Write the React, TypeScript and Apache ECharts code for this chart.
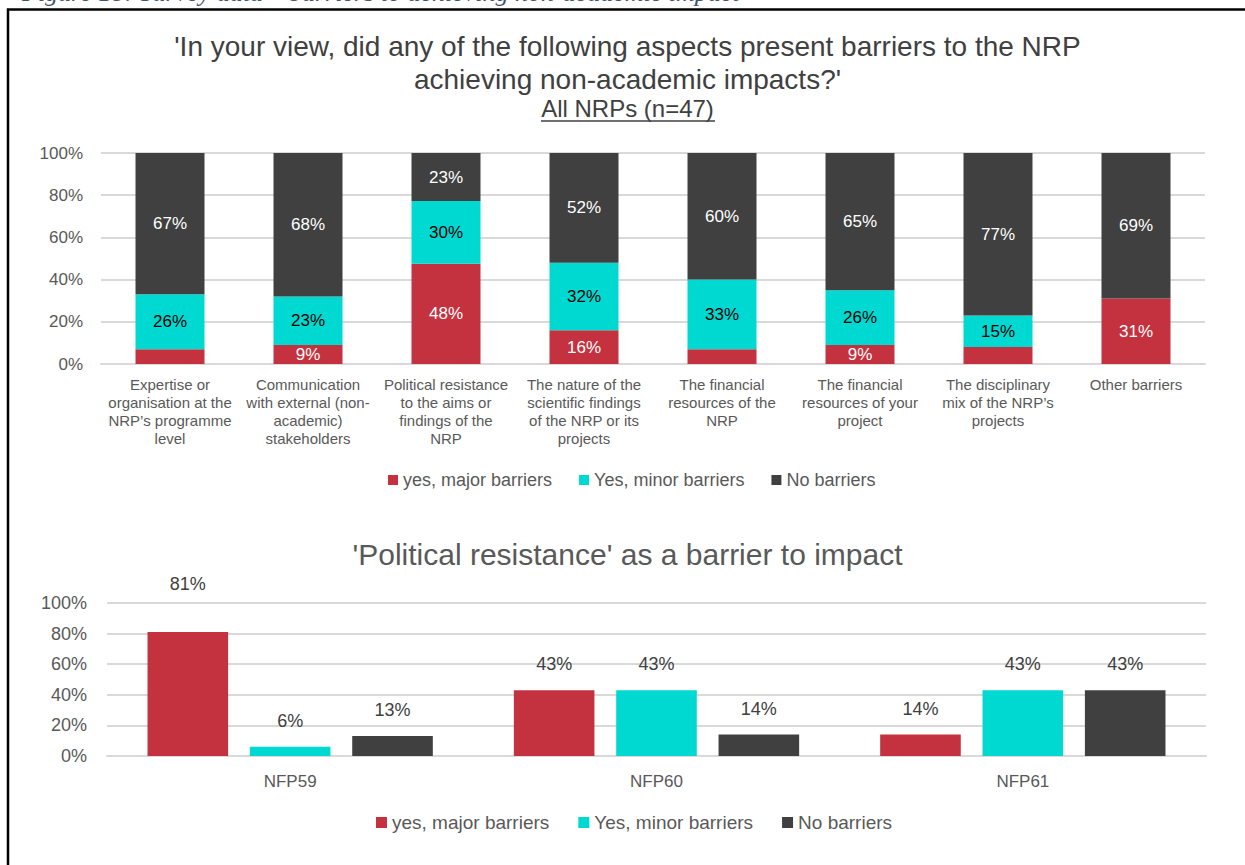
import React, { useEffect, useRef } from "react";
import * as echarts from "echarts";

const FONT = '"Liberation Sans", Arial, sans-serif';

const seriesNames = ["yes, major barriers", "Yes, minor barriers", "No barriers"];
const colors = ["#C3323E", "#00D9D2", "#404040"];

const barrierCategories = [
  "Expertise or\norganisation at the\nNRP\u2019s programme\nlevel",
  "Communication\nwith external (non-\nacademic)\nstakeholders",
  "Political resistance\nto the aims or\nfindings of the\nNRP",
  "The nature of the\nscientific findings\nof the NRP or its\nprojects",
  "The financial\nresources of the\nNRP",
  "The financial\nresources of your\nproject",
  "The disciplinary\nmix of the NRP\u2019s\nprojects",
  "Other barriers",
];
const majorBarriers = [7, 9, 48, 16, 7, 9, 8, 31];
const minorBarriers = [26, 23, 30, 32, 33, 26, 15, 0];
const noBarriers = [67, 68, 23, 52, 60, 65, 77, 69];

const nfpCategories = ["NFP59", "NFP60", "NFP61"];
const nfpMajor = [81, 43, 14];
const nfpMinor = [6, 43, 43];
const nfpNone = [13, 14, 43];

const percentTicks = [0, 20, 40, 60, 80, 100];

export default function App() {
  const ref = useRef<HTMLDivElement>(null);

  useEffect(() => {
    if (!ref.current) return;
    const chart = echarts.init(ref.current, null, { renderer: "svg" });

    const topRaw = [majorBarriers, minorBarriers, noBarriers];
    const totals = majorBarriers.map((_, i) => majorBarriers[i] + minorBarriers[i] + noBarriers[i]);
    const labelColors = ["#FFFFFF", "#000000", "#FFFFFF"];

    const topSeries = topRaw.map((arr, s) => ({
      name: seriesNames[s],
      type: "bar",
      stack: "share",
      xAxisIndex: 0,
      yAxisIndex: 0,
      barWidth: "50%",
      itemStyle: { color: colors[s] },
      data: arr.map((v, i) => (v / totals[i]) * 100),
      label: {
        show: true,
        position: "inside",
        fontFamily: FONT,
        fontSize: 17,
        color: labelColors[s],
        formatter: (p: any) => {
          const raw = topRaw[s][p.dataIndex];
          return raw < 9 ? "" : raw + "%";
        },
      },
    }));

    const bottomRaw = [nfpMajor, nfpMinor, nfpNone];
    const bottomSeries = bottomRaw.map((arr, s) => ({
      name: seriesNames[s],
      type: "bar",
      xAxisIndex: 1,
      yAxisIndex: 1,
      barWidth: "22%",
      barGap: "27%",
      itemStyle: { color: colors[s] },
      data: arr.map((v, i) =>
        s === 0 && i === 0 ? { value: v, label: { distance: 39 } } : v
      ),
      label: {
        show: true,
        position: "top",
        distance: 17,
        fontFamily: FONT,
        fontSize: 18,
        color: "#404040",
        formatter: (p: any) => p.value + "%",
      },
    }));

    const yAxisCommon = (fontSize: number, margin: number) => ({
      type: "value",
      min: percentTicks[0],
      max: percentTicks[percentTicks.length - 1],
      interval: percentTicks[1] - percentTicks[0],
      axisLabel: {
        formatter: "{value}%",
        fontFamily: FONT,
        fontSize,
        color: "#595959",
        margin,
      },
      axisLine: { show: false },
      axisTick: { show: false },
      splitLine: { lineStyle: { color: "#D9D9D9", width: 2 } },
    });

    const titleText = (
      text: string,
      y: number,
      fontSize: number,
      lineHeight: number,
      color: string
    ) => ({
      type: "text",
      x: 627.5,
      y,
      style: {
        text,
        align: "center",
        verticalAlign: "top",
        fontFamily: FONT,
        fontSize,
        lineHeight,
        fill: color,
      },
      silent: true,
    });

    chart.setOption({
      animation: false,
      backgroundColor: "#FFFFFF",
      legend: [
        {
          data: seriesNames,
          left: 388,
          top: 471,
          padding: 0,
          icon: "rect",
          itemWidth: 10,
          itemHeight: 10,
          itemGap: 27,
          textStyle: { fontFamily: FONT, fontSize: 18, color: "#595959" },
        },
        {
          data: seriesNames,
          left: 376,
          top: 813,
          padding: 0,
          icon: "rect",
          itemWidth: 11,
          itemHeight: 11,
          itemGap: 29,
          textStyle: { fontFamily: FONT, fontSize: 19, color: "#595959" },
        },
      ],
      grid: [
        { left: 101, right: 40, top: 153, height: 211, containLabel: false },
        { left: 107, right: 39, top: 603, height: 153, containLabel: false },
      ],
      xAxis: [
        {
          type: "category",
          gridIndex: 0,
          data: barrierCategories,
          axisLine: { lineStyle: { color: "#D9D9D9", width: 2 } },
          axisTick: { show: false },
          axisLabel: {
            interval: 0,
            fontFamily: FONT,
            fontSize: 15,
            lineHeight: 18,
            color: "#595959",
            margin: 11,
            align: "center",
          },
        },
        {
          type: "category",
          gridIndex: 1,
          data: nfpCategories,
          axisLine: { lineStyle: { color: "#D9D9D9", width: 2 } },
          axisTick: { show: false },
          axisLabel: {
            interval: 0,
            fontFamily: FONT,
            fontSize: 17,
            color: "#595959",
            margin: 17,
          },
        },
      ],
      yAxis: [
        { ...yAxisCommon(17, 18), gridIndex: 0 },
        { ...yAxisCommon(18, 20), gridIndex: 1 },
      ],
      series: [...topSeries, ...bottomSeries],
      graphic: [
        titleText(
          "'In your view, did any of the following aspects present barriers to the NRP\nachieving non-academic impacts?'",
          30,
          28,
          33,
          "#404040"
        ),
        titleText("All NRPs (n=47)", 95, 24, 26, "#404040"),
        titleText("'Political resistance' as a barrier to impact", 537, 30, 34, "#595959"),
        {
          type: "text",
          left: 22,
          top: -21,
          style: {
            text: "Figure 18: Survey data \u2013 barriers to achieving non-academic impact",
            fontFamily: '"Liberation Serif", "DejaVu Serif", serif',
            fontStyle: "italic",
            fontSize: 26,
            fill: "#44546A",
          },
          z: 10,
        },
        {
          type: "rect",
          shape: { x: 8, y: 9.5, width: 1400, height: 1000 },
          style: { fill: "none", stroke: "#000000", lineWidth: 2.5 },
          silent: true,
          z: 10,
        },
        {
          type: "line",
          shape: { x1: 541, y1: 121, x2: 715, y2: 121 },
          style: { stroke: "#404040", lineWidth: 1.5 },
          silent: true,
        },
      ],
    });

    return () => chart.dispose();
  }, []);

  return (
    <div
      ref={ref}
      style={{ position: "absolute", left: 0, top: 0, width: 1245, height: 865 }}
    />
  );
}
